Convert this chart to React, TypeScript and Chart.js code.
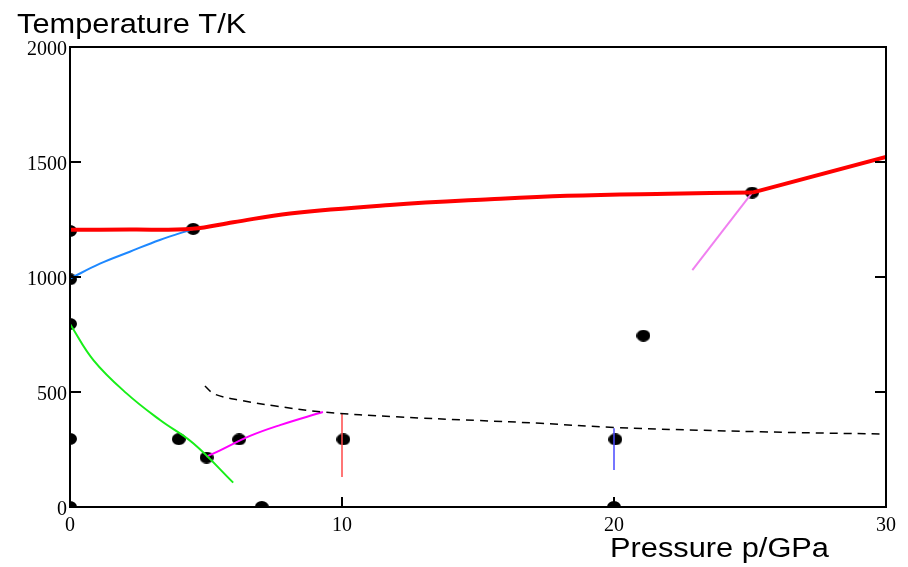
import React, { useEffect, useRef } from 'react';
import { Chart, registerables } from 'chart.js';

Chart.register(...registerables);

// Axis ticks
const xTickValues = [0, 10, 20, 30];
const yTickValues = [0, 500, 1000, 1500, 2000];

// Measured data points (black dots)
const dotPressure = [0, 0, 0, 0, 0, 4.53, 4.0, 5.02, 6.22, 7.05, 10.05, 20.05, 20.0, 21.08, 25.08];
const dotTemperature = [1200, 990, 796, 296, 0, 1209, 295, 215, 294, 0, 294, 294, 0, 745, 1367];

// Melting curve (red, thick)
const meltPressure = [0, 2.2, 4.5, 6, 8.09, 11.76, 15.44, 18.27, 22, 25.08];
const meltTemperature = [1205, 1206, 1210, 1238, 1276, 1313, 1338, 1353, 1362, 1367];
const meltHighPressure = [25.08, 30];
const meltHighTemperature = [1367, 1522];

// Blue boundary
const bluePressure = [0, 1.1, 2.2, 3.3, 4.53];
const blueTemperature = [993, 1058, 1110, 1161, 1209];

// Green boundary
const greenPressure = [0, 0.86, 2.08, 3.31, 4.53, 6.0];
const greenTemperature = [796, 639, 494, 378, 277, 106];

// Magenta boundary
const magentaPressure = [5.02, 5.5, 6.62, 7.72, 9.3];
const magentaTemperature = [219, 245, 309, 356, 413];

// Dashed black boundary
const dashedPressure = [4.96, 5.33, 6.36, 7.5, 9.3, 12, 15, 17.3, 20, 25.4, 30];
const dashedTemperature = [526, 490, 462, 440, 413, 392, 376, 364, 346, 327, 317];

// Short vertical / oblique segments
const redBarPressure = [10, 10];
const redBarTemperature = [407, 130];
const blueBarPressure = [20, 20];
const blueBarTemperature = [342, 161];
const violetPressure = [22.88, 25.08];
const violetTemperature = [1030, 1367];

const xTitle = 'Pressure p/GPa';
const yTitle = 'Temperature T/K';

function pts(xs: number[], ys: number[]) {
  return xs.map((x, i) => ({ x, y: ys[i] }));
}

function lineDs(xs: number[], ys: number[], color: string, width: number, extra: any = {}) {
  return {
    data: pts(xs, ys),
    showLine: true,
    borderColor: color,
    backgroundColor: color,
    borderWidth: width,
    pointRadius: 0,
    pointHoverRadius: 0,
    fill: false,
    tension: 0.4,
    order: 0,
    ...extra,
  };
}

export default function App() {
  const ref = useRef<HTMLCanvasElement>(null);

  useEffect(() => {
    document.body.style.margin = '0';
    const canvas = ref.current;
    if (!canvas) return;

    const dot = document.createElement('canvas');
    dot.width = 14;
    dot.height = 12;
    const dctx = dot.getContext('2d')!;
    dctx.fillStyle = '#000';
    dctx.beginPath();
    dctx.ellipse(7, 6, 7, 6, 0, 0, Math.PI * 2);
    dctx.fill();

    const framePlugin = {
      id: 'frame',
      afterDatasetsDraw(chart: any) {
        const { ctx, chartArea: a, scales } = chart;
        ctx.save();
        ctx.strokeStyle = '#000';
        ctx.lineWidth = 2;
        ctx.strokeRect(a.left, a.top, a.right - a.left, a.bottom - a.top);
        const seg = (x1: number, y1: number, x2: number, y2: number) => {
          ctx.beginPath();
          ctx.moveTo(x1, y1);
          ctx.lineTo(x2, y2);
          ctx.stroke();
        };
        yTickValues.forEach((v) => {
          const y = scales.y.getPixelForValue(v);
          seg(a.left, y, a.left + 11, y);
          seg(a.right, y, a.right - 11, y);
        });
        xTickValues.forEach((v) => {
          const x = scales.x.getPixelForValue(v);
          seg(x, a.bottom, x, a.bottom - 10);
        });
        ctx.restore();
      },
      afterDraw(chart: any) {
        const { ctx } = chart;
        const drawTitle = (text: string, x: number, y: number) => {
          ctx.save();
          ctx.fillStyle = '#000';
          ctx.font = '27px "Liberation Sans", Arial, sans-serif';
          ctx.textBaseline = 'alphabetic';
          ctx.textAlign = 'left';
          ctx.translate(x, y);
          ctx.scale(1.14, 1);
          ctx.fillText(text, 0, 0);
          ctx.restore();
        };
        drawTitle(yTitle, 17, 33);
        drawTitle(xTitle, 610, 557);
      },
    };

    const tickFont = { family: '"Liberation Serif", "Times New Roman", serif', size: 20 };

    const chart = new Chart(canvas, {
      type: 'scatter',
      data: {
        datasets: [
          lineDs(dashedPressure, dashedTemperature, '#000000', 1.5, { borderDash: [8, 6] }),
          lineDs(meltPressure, meltTemperature, '#ff0000', 4),
          lineDs(meltHighPressure, meltHighTemperature, '#ff0000', 4, { tension: 0 }),
          lineDs(bluePressure, blueTemperature, '#1e88ff', 2),
          lineDs(greenPressure, greenTemperature, '#18ee18', 2),
          lineDs(magentaPressure, magentaTemperature, '#ff00ff', 2),
          lineDs(redBarPressure, redBarTemperature, '#ff4a4a', 1.5, { tension: 0 }),
          lineDs(blueBarPressure, blueBarTemperature, '#4a4aff', 1.5, { tension: 0 }),
          lineDs(violetPressure, violetTemperature, '#f080f0', 2, { tension: 0 }),
          {
            data: pts(dotPressure, dotTemperature),
            showLine: false,
            pointStyle: dot as any,
            pointRadius: 7,
            pointHoverRadius: 7,
            backgroundColor: '#000',
            borderColor: '#000',
            clip: 0,
            order: 10,
          } as any,
        ] as any,
      },
      options: {
        animation: false,
        responsive: false,
        events: [],
        layout: { padding: { left: 0, right: 22, top: 47, bottom: 0 } },
        plugins: {
          legend: { display: false },
          tooltip: { enabled: false },
          title: { display: false },
        },
        scales: {
          x: {
            type: 'linear',
            min: 0,
            max: 30,
            grid: { display: false, drawTicks: false },
            border: { display: false },
            afterFit: (s: any) => {
              s.height = 60;
            },
            afterBuildTicks: (s: any) => {
              s.ticks = xTickValues.map((v) => ({ value: v }));
            },
            ticks: {
              color: '#000',
              font: tickFont,
              padding: 7,
              maxRotation: 0,
              callback: (v: any) => String(v),
            },
          },
          y: {
            type: 'linear',
            min: 0,
            max: 2000,
            grid: { display: false, drawTicks: false },
            border: { display: false },
            afterFit: (s: any) => {
              s.width = 70;
            },
            afterBuildTicks: (s: any) => {
              s.ticks = yTickValues.map((v) => ({ value: v }));
            },
            ticks: {
              color: '#000',
              font: tickFont,
              padding: 3,
              labelOffset: 3,
              callback: (v: any) => String(v),
            },
          },
        },
      } as any,
      plugins: [framePlugin],
    });

    return () => chart.destroy();
  }, []);

  return (
    <div style={{ width: 908, height: 567, background: '#fff' }}>
      <canvas ref={ref} width={908} height={567} style={{ display: 'block' }} />
    </div>
  );
}
